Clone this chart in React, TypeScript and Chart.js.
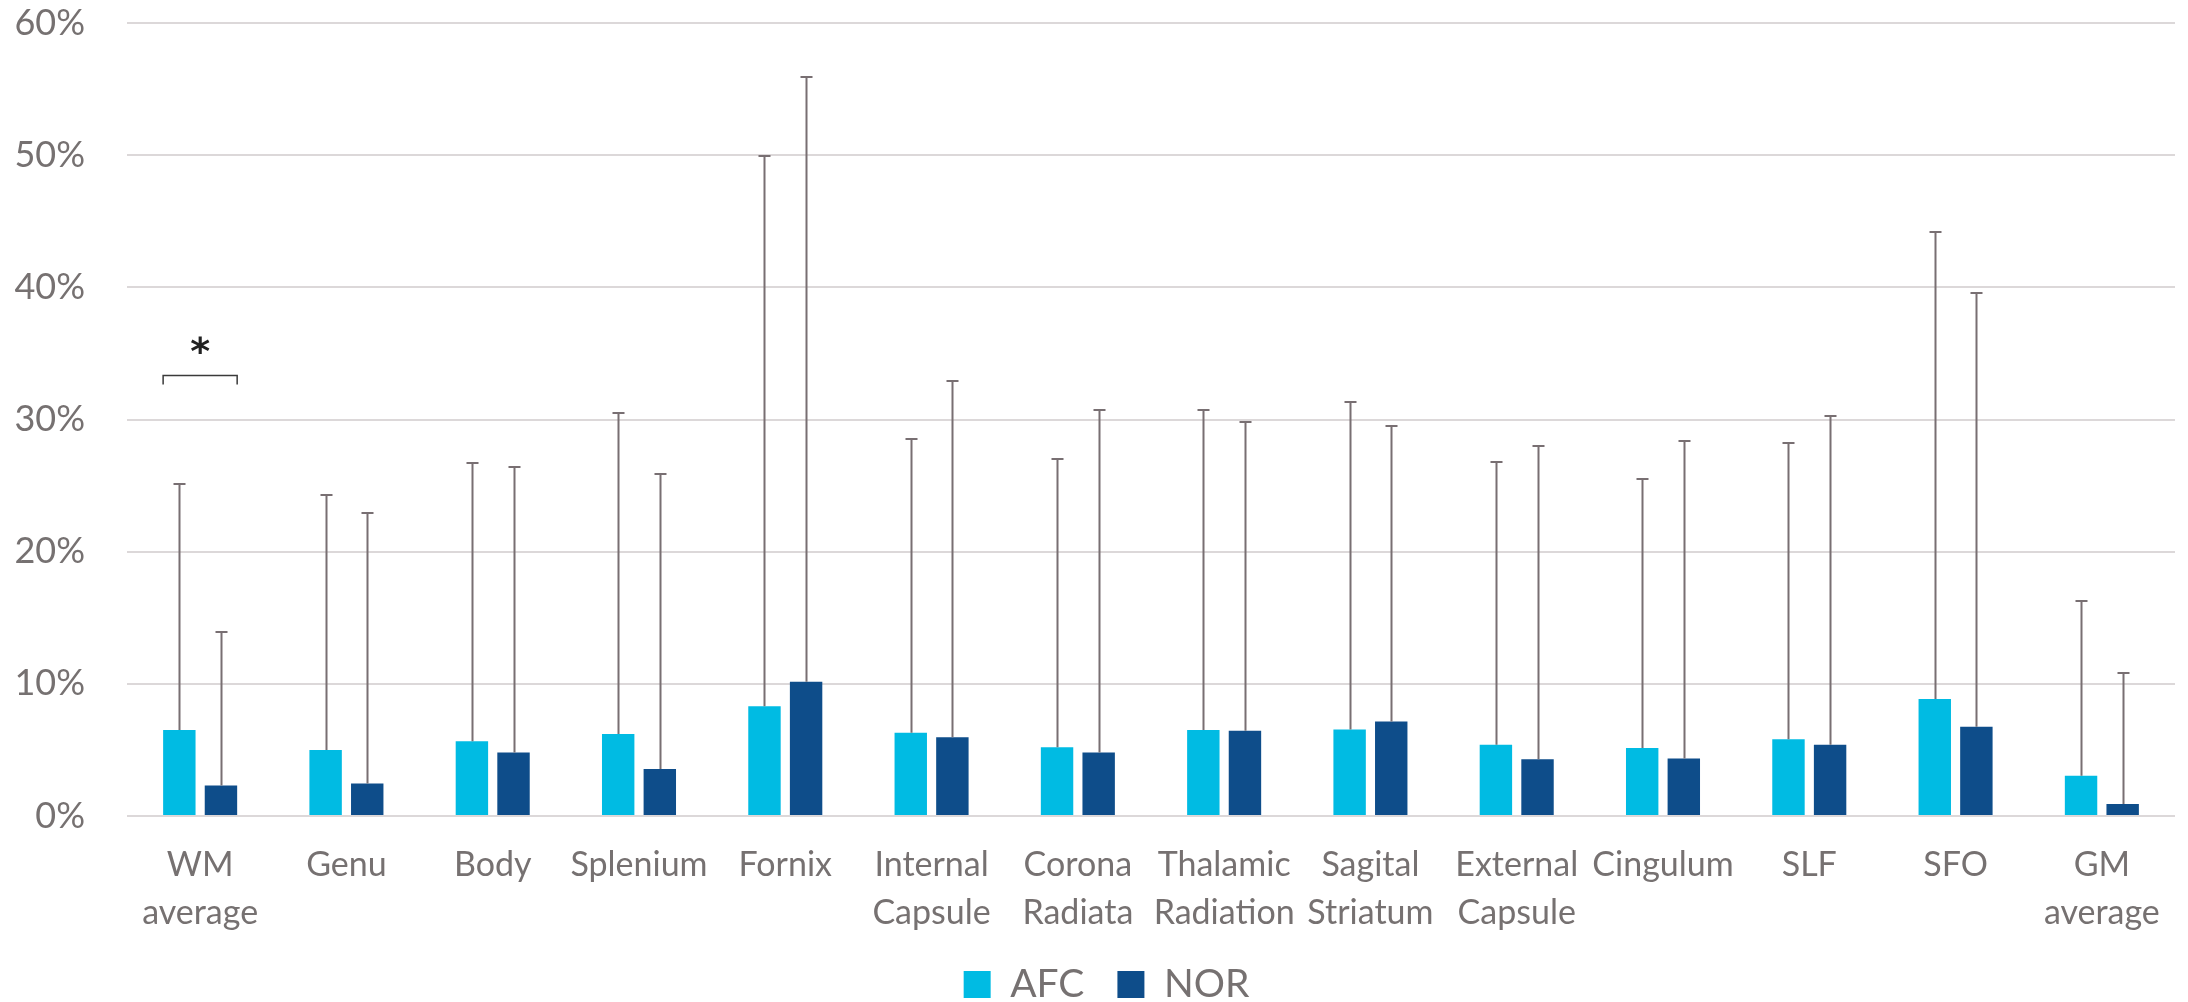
import { useEffect, useRef } from 'react';
import { Chart, registerables } from 'chart.js';

Chart.register(...registerables);

// Regions along the x axis (multi-line labels)
const categories: string[][] = [
  ['WM', 'average'],
  ['Genu'],
  ['Body'],
  ['Splenium'],
  ['Fornix'],
  ['Internal', 'Capsule'],
  ['Corona', 'Radiata'],
  ['Thalamic', 'Radiation'],
  ['Sagital', 'Striatum'],
  ['External', 'Capsule'],
  ['Cingulum'],
  ['SLF'],
  ['SFO'],
  ['GM', 'average'],
];

// Mean values (%) and upper error (SD, %) per group
const afcMean = [6.5, 5.0, 5.65, 6.2, 8.3, 6.3, 5.2, 6.5, 6.55, 5.4, 5.15, 5.8, 8.85, 3.05];
const afcSD = [18.6, 19.3, 21.05, 24.3, 41.6, 22.2, 21.8, 24.25, 24.75, 21.4, 20.35, 22.4, 35.35, 13.2];
const norMean = [2.3, 2.45, 4.8, 3.55, 10.15, 5.95, 4.8, 6.45, 7.15, 4.3, 4.35, 5.4, 6.75, 0.9];
const norSD = [11.6, 20.45, 21.6, 22.35, 45.75, 26.95, 25.9, 23.35, 22.35, 23.7, 24.05, 24.9, 32.85, 9.95];

// Y axis range (%)
const yMin = 0;
const yMax = 60;
const yStep = 10;

// Significant differences: category index, bracket level (%)
const significantIdx = [0];
const bracketLevel = 33.4;
const bracketTip = 0.75;
const starLevel = 35.7;

const TEXT = '#767171';
const AFC_COLOR = '#00BBE3';
const NOR_COLOR = '#0E4D8A';

// Legend sits slightly right of the canvas centre
const legendShift = 19;

const legendOffsetPlugin = {
  id: 'legendOffset',
  afterLayout(chart: any) {
    if (chart.legend) {
      chart.legend.left += legendShift;
      chart.legend.right += legendShift;
    }
  },
};

const errorBarPlugin = {
  id: 'errorBars',
  afterDatasetsDraw(chart: any) {
    const { ctx } = chart;
    const y = chart.scales.y;
    ctx.save();
    ctx.strokeStyle = '#786f72';
    ctx.lineWidth = 2;
    chart.data.datasets.forEach((ds: any, di: number) => {
      const meta = chart.getDatasetMeta(di);
      meta.data.forEach((bar: any, i: number) => {
        const x = Math.round(bar.x) + 0.5;
        const top = Math.round(y.getPixelForValue(ds.data[i] + ds.errors[i]));
        ctx.beginPath();
        ctx.moveTo(x, bar.y);
        ctx.lineTo(x, top);
        ctx.moveTo(x - 6, top);
        ctx.lineTo(x + 6, top);
        ctx.stroke();
      });
    });

    // significance bracket with asterisk
    const m0 = chart.getDatasetMeta(0);
    const m1 = chart.getDatasetMeta(1);
    ctx.strokeStyle = '#3a3a3a';
    ctx.lineWidth = 1.5;
    significantIdx.forEach((i) => {
      const b0 = m0.data[i];
      const b1 = m1.data[i];
      const left = b0.x - b0.width / 2;
      const right = b1.x + b1.width / 2;
      const yb = Math.round(y.getPixelForValue(bracketLevel)) + 0.5;
      const yt = y.getPixelForValue(bracketLevel - bracketTip);
      ctx.beginPath();
      ctx.moveTo(left, yt);
      ctx.lineTo(left, yb);
      ctx.lineTo(right, yb);
      ctx.lineTo(right, yt);
      ctx.stroke();
      const fs = 38;
      ctx.fillStyle = '#222222';
      ctx.font = `bold ${fs}px "DejaVu Sans"`;
      ctx.textAlign = 'center';
      ctx.textBaseline = 'alphabetic';
      ctx.fillText('*', (left + right) / 2, y.getPixelForValue(starLevel) + 0.53 * fs);
    });
    ctx.restore();
  },
};

export default function App() {
  const canvasRef = useRef<HTMLCanvasElement | null>(null);

  useEffect(() => {
    if (!canvasRef.current) return;
    const chart = new Chart(canvasRef.current, {
      type: 'bar',
      data: {
        labels: categories,
        datasets: [
          {
            label: 'AFC',
            data: afcMean,
            errors: afcSD,
            backgroundColor: AFC_COLOR,
            borderWidth: 0,
            categoryPercentage: 0.569,
            barPercentage: 0.779,
          } as any,
          {
            label: 'NOR',
            data: norMean,
            errors: norSD,
            backgroundColor: NOR_COLOR,
            borderWidth: 0,
            categoryPercentage: 0.569,
            barPercentage: 0.779,
          } as any,
        ],
      },
      options: {
        animation: false,
        responsive: true,
        maintainAspectRatio: false,
        layout: { padding: { top: 23, right: 13, left: 0, bottom: 0 } },
        plugins: {
          tooltip: { enabled: false },
          legend: {
            position: 'bottom',
            labels: {
              color: TEXT,
              font: { family: 'Lato', size: 39 },
              boxWidth: 27,
              boxHeight: 27,
              padding: 33,
            },
          },
        },
        scales: {
          x: {
            grid: { display: false, drawTicks: false },
            border: { display: false },
            ticks: {
              color: TEXT,
              font: { family: 'Lato', size: 34, lineHeight: 48 / 34 },
              padding: 25,
              autoSkip: false,
              maxRotation: 0,
              minRotation: 0,
            },
            afterFit(scale: any) {
              scale.height = 116;
            },
          },
          y: {
            min: yMin,
            max: yMax,
            grid: { color: '#dcd8d9', lineWidth: 2, drawTicks: false },
            border: { display: false },
            ticks: {
              stepSize: yStep,
              color: TEXT,
              font: { family: 'Lato', size: 36 },
              padding: 42,
              callback: (v: any) => `${v}%`,
            },
            afterFit(scale: any) {
              scale.width = 127;
              scale.paddingTop = 20;
              scale.paddingBottom = 20;
            },
          },
        },
      },
      plugins: [legendOffsetPlugin, errorBarPlugin],
    });
    return () => chart.destroy();
  }, []);

  return (
    <div
      style={{
        position: 'fixed',
        left: 0,
        top: 0,
        width: '100vw',
        height: '100vh',
        overflow: 'hidden',
        background: '#ffffff',
      }}
    >
      <div style={{ position: 'relative', width: 2188, height: 1014 }}>
        <canvas ref={canvasRef} />
      </div>
    </div>
  );
}
